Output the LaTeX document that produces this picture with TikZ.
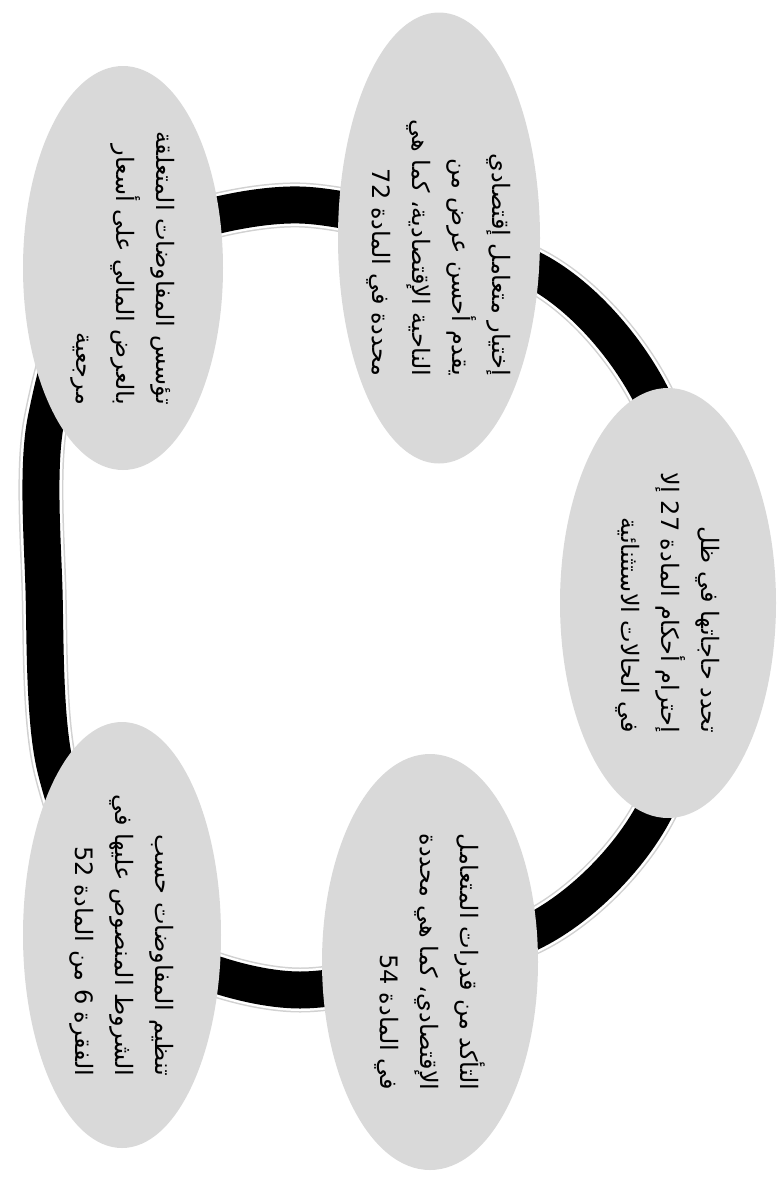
\documentclass[tikz,border=0pt]{standalone}
\usepackage{fontspec}
\newfontfamily\arabicfont[Script=Arabic]{DejaVu Sans}
\TeXXeTstate=1
\usetikzlibrary{shapes.geometric}

\tikzset{
  oval/.style={ellipse, fill=black!15, inner sep=0pt},
  txt/.style={font=\arabicfont\fontsize{24}{40}\selectfont, align=right, rotate=-90, inner sep=0pt},
  ringglow/.style={line width=45, draw=black!18},
  ringgap/.style={line width=42, draw=white},
  ringband/.style={line width=37, draw=black}
}

\begin{document}
\begin{tikzpicture}[x=1pt,y=-1pt]
    \useasboundingbox (0,0) rectangle (779,1181);
    % ring
    \foreach \s in {ringglow,ringgap,ringband}
      \draw[\s] plot[smooth cycle, tension=0.5] coordinates {(300,205) (536,271) (651,395) (705,600) (655,810) (534,931) (300,990) (130,930) (56,770) (44,590) (46,420) (110,260)};
    % ovals
    \node[oval, minimum width=202, minimum height=451] (e1) at (439,238) {};
    \node[oval, minimum width=200, minimum height=404] (e2) at (123,268) {};
    \node[oval, minimum width=216, minimum height=430] (e3) at (668,603) {};
    \node[oval, minimum width=216, minimum height=416] (e4) at (430,962) {};
    \node[oval, minimum width=198, minimum height=426] (e5) at (122,935) {};
    % texts
    \node[txt] (t1) at ([yshift=-10]e1) {\beginR إختيار متعامل إقتصادي\endR\\\beginR يقدم أحسن عرض من\endR\\\beginR الناحية الإقتصادية، كما هي\endR\\\beginR محددة في المادة 72\endR};
    \node[txt] (t2) at (e2) {\beginR تؤسس المفاوضات المتعلقة\endR\\\beginR بالعرض المالي على أسعار\endR\\\beginR مرجعية\endR};
    \node[txt] (t3) at (e3) {\beginR تحدد حاجاتها في ظل\endR\\\beginR إحترام أحكام المادة 27 إلا\endR\\\beginR في الحالات الاستثنائية\endR};
    \node[txt] (t4) at (e4) {\beginR التأكد من قدرات المتعامل\endR\\\beginR الإقتصادي، كما هي محددة\endR\\\beginR في المادة 54\endR};
    \node[txt] (t5) at (e5) {\beginR تنظيم المفاوضات حسب\endR\\\beginR الشروط المنصوص عليها في\endR\\\beginR الفقرة 6 من المادة 52\endR};
\end{tikzpicture}
\end{document}
